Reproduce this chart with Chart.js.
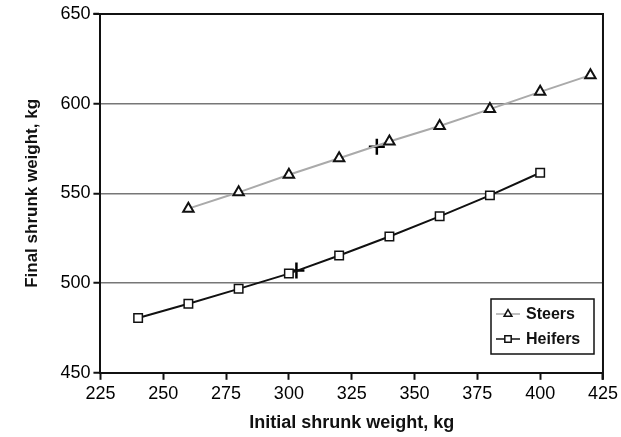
<!DOCTYPE html>
<html>
<head>
<meta charset="utf-8">
<script src="https://cdn.jsdelivr.net/npm/chart.js@4.4.1/dist/chart.umd.min.js"></script>
<style>
  html, body { margin: 0; padding: 0; background: #fff; }
  #wrap { width: 621px; height: 437px; }
</style>
</head>
<body>
<div id="wrap"><canvas id="chart" width="621" height="437"></canvas></div>
<script>
// ==================== DATA ====================
const steersX = [260, 280, 300, 320, 340, 360, 380, 400, 420];
const steersY = [541.5, 550.6, 560.4, 569.6, 578.9, 587.6, 597, 606.6, 615.9];
const heifersX = [240, 260, 280, 300, 320, 340, 360, 380, 400];
const heifersY = [480.5, 488.5, 496.8, 505.3, 515.4, 526, 537.2, 548.9, 561.5];
const crossX = [335, 303];
const crossY = [576, 507];
const xTicks = [225, 250, 275, 300, 325, 350, 375, 400, 425];
const yTicks = [450, 500, 550, 600, 650];

const FONT = "'Liberation Sans', Arial, Helvetica, sans-serif";

function pts(xs, ys) {
    return xs.map((x, i) => ({ x: x, y: ys[i] }));
}

// ==================== PLUGINS ====================
// frame on top and right side
const framePlugin = {
    id: 'frame',
    afterDatasetsDraw(chart) {
        const a = chart.chartArea;
        const ctx = chart.ctx;
        ctx.save();
        ctx.strokeStyle = '#111';
        ctx.lineWidth = 2;
        ctx.beginPath();
        ctx.moveTo(a.left - 7, a.top);
        ctx.lineTo(a.right, a.top);
        ctx.lineTo(a.right, a.bottom + 7);
        ctx.stroke();
        ctx.restore();
    }
};

// boxed legend with line + marker samples
const legendPlugin = {
    id: 'boxLegend',
    afterDraw(chart) {
        const ctx = chart.ctx;
        const box = { x: 491, y: 299, w: 103, h: 55 };
        ctx.save();
        ctx.fillStyle = '#fff';
        ctx.fillRect(box.x, box.y, box.w, box.h);
        ctx.strokeStyle = '#111';
        ctx.lineWidth = 1.5;
        ctx.strokeRect(box.x, box.y, box.w, box.h);

        const rows = [
            { label: 'Steers', ds: chart.data.datasets[0], y: box.y + 15 },
            { label: 'Heifers', ds: chart.data.datasets[1], y: box.y + 40 }
        ];
        rows.forEach(r => {
            ctx.strokeStyle = r.ds.borderColor;
            ctx.lineWidth = 1.5;
            ctx.beginPath();
            ctx.moveTo(box.x + 5, r.y);
            ctx.lineTo(box.x + 29, r.y);
            ctx.stroke();
            ctx.fillStyle = '#fff';
            ctx.strokeStyle = '#111';
            ctx.lineWidth = 1.5;
            Chart.helpers.drawPoint(ctx, {
                pointStyle: r.ds.pointStyle,
                radius: 4.5,
                rotation: 0,
                borderWidth: 1.5
            }, box.x + 17, r.y);
            ctx.fillStyle = '#111';
            ctx.font = 'bold 16px ' + FONT;
            ctx.textBaseline = 'middle';
            ctx.fillText(r.label, box.x + 35, r.y + 1);
        });
        ctx.restore();
    }
};

// ==================== CHART ====================
const ctx = document.getElementById('chart').getContext('2d');
const chart = new Chart(ctx, {
    type: 'scatter',
    data: {
        datasets: [
            {
                label: 'Steers',
                data: pts(steersX, steersY),
                showLine: true,
                borderColor: '#aaaaaa',
                borderWidth: 2,
                pointStyle: 'triangle',
                pointRadius: 6,
                pointBorderWidth: 2,
                pointBorderColor: '#111',
                pointBackgroundColor: '#fff'
            },
            {
                label: 'Heifers',
                data: pts(heifersX, heifersY),
                showLine: true,
                borderColor: '#111',
                borderWidth: 2,
                pointStyle: 'rect',
                pointRadius: 6,
                pointBorderWidth: 1.5,
                pointBorderColor: '#111',
                pointBackgroundColor: '#fff'
            },
            {
                label: 'mean',
                data: pts(crossX, crossY),
                showLine: false,
                pointStyle: 'cross',
                pointRadius: 8,
                pointBorderWidth: 2.5,
                pointBorderColor: '#000'
            }
        ]
    },
    options: {
        responsive: false,
        animation: false,
        devicePixelRatio: 1,
        layout: { padding: { top: 14, right: 16, left: 22, bottom: 3 } },
        plugins: {
            legend: { display: false },
            tooltip: { enabled: false }
        },
        scales: {
            x: {
                type: 'linear',
                min: 225,
                max: 425,
                afterBuildTicks: s => { s.ticks = xTicks.map(v => ({ value: v })); },
                border: { color: '#111', width: 2 },
                grid: { drawOnChartArea: false, tickLength: 7, tickColor: '#111', tickWidth: 2 },
                ticks: { color: '#000', padding: 3, font: { family: FONT, size: 18 }, maxRotation: 0 },
                title: {
                    display: true,
                    text: 'Initial shrunk weight, kg',
                    color: '#111',
                    font: { family: FONT, size: 18, weight: 'bold' },
                    padding: { top: 5, bottom: 0 }
                }
            },
            y: {
                type: 'linear',
                min: 450,
                max: 650,
                afterBuildTicks: s => { s.ticks = yTicks.map(v => ({ value: v })); },
                border: { color: '#111', width: 2 },
                grid: {
                    color: c => (c.tick && (c.tick.value === 450 || c.tick.value === 650)) ? 'rgba(0,0,0,0)' : '#777',
                    lineWidth: 1.5,
                    tickLength: 7,
                    tickColor: '#111',
                    tickWidth: 2
                },
                ticks: { color: '#000', padding: 3, font: { family: FONT, size: 18 } },
                title: {
                    display: true,
                    text: 'Final shrunk weight, kg',
                    color: '#111',
                    font: { family: FONT, size: 17, weight: 'bold' },
                    padding: { top: 0, bottom: 15 }
                }
            }
        }
    },
    plugins: [framePlugin, legendPlugin]
});
</script>
</body>
</html>
